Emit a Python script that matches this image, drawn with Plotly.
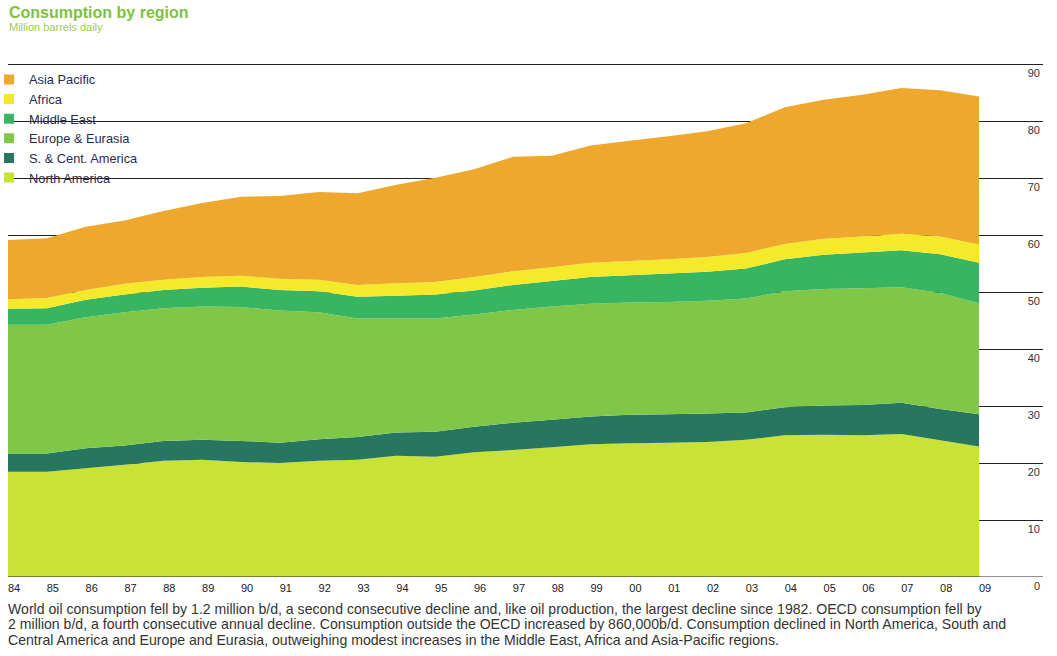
import plotly.graph_objects as go

years = list(range(1984, 2010))
year_labels = ["84", "85", "86", "87", "88", "89", "90", "91", "92", "93", "94", "95", "96",
               "97", "98", "99", "00", "01", "02", "03", "04", "05", "06", "07", "08", "09"]

north_america = [18.5, 18.5, 19.1, 19.7, 20.4, 20.6, 20.2, 20.0, 20.4, 20.6, 21.3, 21.1, 21.9,
                 22.3, 22.8, 23.3, 23.5, 23.6, 23.7, 24.1, 24.9, 25.0, 24.9, 25.1, 24.0, 22.9]
sc_america = [3.2, 3.2, 3.5, 3.4, 3.5, 3.5, 3.7, 3.6, 3.8, 4.0, 4.1, 4.4, 4.5,
              4.8, 4.8, 4.9, 5.0, 5.0, 5.0, 4.8, 4.9, 5.1, 5.3, 5.5, 5.5, 5.7]
europe_eurasia = [22.6, 22.6, 23.0, 23.4, 23.3, 23.4, 23.5, 23.2, 22.3, 20.8, 20.0, 19.9, 19.7,
                  19.8, 19.9, 19.8, 19.7, 19.7, 19.8, 20.0, 20.4, 20.5, 20.5, 20.3, 20.4, 19.5]
middle_east = [2.8, 2.9, 3.1, 3.1, 3.2, 3.3, 3.6, 3.6, 3.7, 3.8, 4.0, 4.2, 4.2,
               4.4, 4.5, 4.7, 4.8, 5.0, 5.1, 5.3, 5.6, 6.0, 6.3, 6.5, 6.8, 7.1]
africa = [1.7, 1.8, 1.7, 1.9, 1.8, 1.9, 1.9, 2.0, 2.0, 2.1, 2.2, 2.2, 2.4,
          2.4, 2.4, 2.5, 2.5, 2.5, 2.6, 2.7, 2.7, 2.8, 2.8, 2.9, 3.1, 3.2]
asia_pacific = [10.4, 10.5, 11.1, 11.1, 12.1, 13.0, 13.9, 14.5, 15.4, 16.1, 17.3, 18.3, 18.9,
                20.1, 19.6, 20.6, 21.1, 21.6, 22.1, 22.8, 24.0, 24.4, 24.9, 25.6, 25.7, 26.0]

series = [
    ("North America", north_america, "#C8E236"),
    ("S. & Cent. America", sc_america, "#267660"),
    ("Europe & Eurasia", europe_eurasia, "#80C748"),
    ("Middle East", middle_east, "#38B562"),
    ("Africa", africa, "#F5EA2A"),
    ("Asia Pacific", asia_pacific, "#EEA82E"),
]

y_ticks = [0, 10, 20, 30, 40, 50, 60, 70, 80, 90]

caption_lines = [
    "World oil consumption fell by 1.2 million b/d, a second consecutive decline and, like oil production, the largest decline since 1982. OECD consumption fell by",
    "2 million b/d, a fourth consecutive annual decline. Consumption outside the OECD increased by 860,000b/d. Consumption declined in North America, South and",
    "Central America and Europe and Eurasia, outweighing modest increases in the Middle East, Africa and Asia-Pacific regions.",
]

fig = go.Figure()
for name, vals, col in series:
    fig.add_trace(go.Scatter(
        x=years, y=vals, name=name, stackgroup="one", mode="none",
        fillcolor=col, line=dict(width=0), showlegend=False, hoverinfo="x+y+name"))
for name, vals, col in series:
    fig.add_trace(go.Scatter(
        x=[None], y=[None], name=name, mode="markers",
        marker=dict(symbol="square", size=10, color=col, line=dict(width=0)), showlegend=True))

annotations = [
    dict(text="<b>Consumption by region</b>", xref="paper", yref="paper", x=0, y=1,
         xanchor="left", yanchor="middle", showarrow=False,
         font=dict(size=16, color="#7DC242"), xshift=-1, yshift=62 - 12),
    dict(text="Million barrels daily", xref="paper", yref="paper", x=0, y=1,
         xanchor="left", yanchor="middle", showarrow=False,
         font=dict(size=11, color="#9ACD50"), xshift=-1, yshift=62 - 27),
]
for i, line in enumerate(caption_lines):
    annotations.append(dict(
        text=line, xref="paper", yref="paper", x=0, y=0, xanchor="left", yanchor="middle",
        align="left", showarrow=False, font=dict(size=14.1, color="#333"),
        xshift=-2, yshift=-(31.5 + 15.8 * i)))

fig.update_layout(
    width=1057, height=656,
    margin=dict(l=8, r=14, t=62, b=79, autoexpand=False),
    paper_bgcolor="white", plot_bgcolor="white",
    font=dict(family="Liberation Sans, Arial, sans-serif", color="#2b2b3f"),
    showlegend=True,
    legend=dict(x=-0.0183, y=0.995, xanchor="left", yanchor="top", traceorder="reversed",
                font=dict(size=12.8, color="#2b2b4f"), itemwidth=30,
                bgcolor="rgba(0,0,0,0)", tracegroupgap=0),
    xaxis=dict(range=[1984, 1984 + (1043 - 8) / 38.84], tickvals=years, ticktext=year_labels,
               showgrid=False, zeroline=False, showline=False, ticks="", automargin=False,
               tickfont=dict(size=11, color="#222"), ticklabelshift=6, ticklabelstandoff=3),
    yaxis=dict(range=[0, 90.45], tickvals=y_ticks, side="right", ticklabelposition="inside",
               ticklabeloverflow="allow",
               showgrid=True, gridcolor="#222", gridwidth=1, zeroline=False, showline=False,
               ticks="", automargin=False, tickfont=dict(size=11, color="#333"), ticklabelshift=9),
    shapes=[dict(type="line", xref="paper", yref="y", x0=0, x1=1, y0=0, y1=0,
                 line=dict(color="#222", width=1.2), layer="above")],
    annotations=annotations,
)

fig.write_html("out.html", config={"displayModeBar": False},
               post_script="document.body.style.margin='0';document.body.style.overflow='hidden';")
